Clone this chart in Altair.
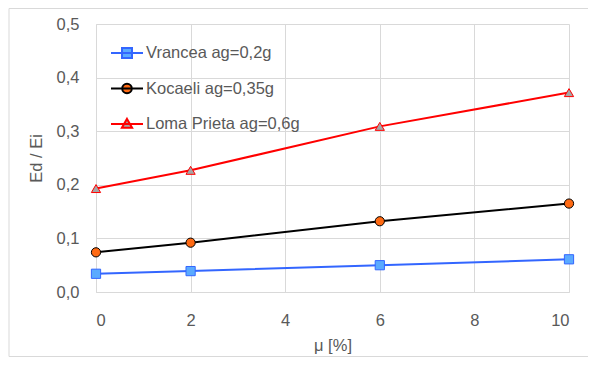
import altair as alt
import pandas as pd

mu = [0, 2, 6, 10]
series_names = ["Vrancea ag=0,2g", "Kocaeli ag=0,35g", "Loma Prieta ag=0,6g"]
vrancea = [0.034, 0.039, 0.050, 0.061]
kocaeli = [0.074, 0.092, 0.132, 0.165]
loma = [0.193, 0.227, 0.309, 0.372]
line_colors = ["#3366ff", "#000000", "#ff0000"]
fill_colors = ["#5aaaff", "#ff6a13", "#a6a6a6"]
shapes = ["square", "circle", "triangle-up"]
y_ticks = [0, 0.1, 0.2, 0.3, 0.4, 0.5]
x_ticks = [0, 2, 4, 6, 8, 10]

rows = []
for name, vals in zip(series_names, [vrancea, kocaeli, loma]):
    for m, v in zip(mu, vals):
        rows.append({"mu": m, "val": v, "series": name})
df = pd.DataFrame(rows)

FONT = "Liberation Sans"
TXT = "#595959"
GRID = "#d9d9d9"
FS = 16.5

line_path = "M-1,0L1,0"
sq = "M-0.3125,-0.3125h0.625v0.625h-0.625Z"
circ = "M0.3,0A0.3,0.3 0 1,1 -0.3,0A0.3,0.3 0 1,1 0.3,0Z"
tri = "M0,-0.32L0.32,0.24L-0.32,0.24Z"
legend_shapes = [line_path + sq, line_path + circ, line_path + tri]

x_enc = alt.X("mu:Q", title="μ [%]",
              scale=alt.Scale(domain=[0, 10], nice=False),
              axis=alt.Axis(values=x_ticks, format="d", labelPadding=20, titlePadding=9))
y_enc = alt.Y("val:Q", title="Ed / Ei",
              scale=alt.Scale(domain=[0, 0.5], nice=False),
              axis=alt.Axis(values=y_ticks,
                            labelExpr="replace(format(datum.value, '.1f'), '.', ',')",
                            labelPadding=17, titlePadding=12))

legend = alt.Legend(
    title=None, orient="none", legendX=14, legendY=12,
    symbolSize=1024, symbolStrokeWidth=2, symbolOpacity=1, rowPadding=9.5, labelOffset=2,
    padding=0, labelFontSize=FS, labelFont=FONT, labelColor=TXT,
)

lines = alt.Chart(df).mark_line(strokeWidth=2).encode(
    x=x_enc, y=y_enc,
    stroke=alt.Stroke("series:N", scale=alt.Scale(domain=series_names, range=line_colors), legend=None),
    detail="series:N",
)

points = alt.Chart(df).mark_point(filled=True, opacity=1, strokeWidth=1, size=85).encode(
    x=x_enc, y=y_enc,
    stroke=alt.Stroke("series:N", scale=alt.Scale(domain=series_names, range=line_colors), legend=None),
    fill=alt.Fill("series:N", scale=alt.Scale(domain=series_names, range=fill_colors), legend=None),
    shape=alt.Shape("series:N", scale=alt.Scale(domain=series_names, range=shapes), legend=None),
)

legend_layer = alt.Chart(df).mark_point(filled=True, opacity=0, strokeWidth=2, size=1024).encode(
    x=x_enc, y=y_enc,
    stroke=alt.Stroke("series:N", scale=alt.Scale(domain=series_names, range=line_colors), legend=legend),
    fill=alt.Fill("series:N", scale=alt.Scale(domain=series_names, range=fill_colors), legend=legend),
    shape=alt.Shape("series:N", scale=alt.Scale(domain=series_names, range=legend_shapes), legend=legend),
)

frame = alt.Chart(alt.Data(values=[{}])).mark_rect(
    fill=None, stroke=GRID, strokeWidth=1
).encode(
    x=alt.value(-87), x2=alt.value(500), y=alt.value(-15.5), y2=alt.value(332.5)
)

chart = alt.layer(frame, lines, points, legend_layer).resolve_scale(
    stroke="independent", fill="independent", shape="independent"
).properties(
    width=473, height=268,
    autosize=alt.AutoSizeParams(type="none"),
    padding={"left": 88, "top": 16, "right": 19, "bottom": 65},
).configure_view(stroke=None).configure_axis(
    grid=True, gridColor=GRID, gridWidth=1,
    domainColor=GRID, ticks=False,
    labelFont=FONT, labelFontSize=FS, labelColor=TXT,
    titleFont=FONT, titleFontSize=FS, titleColor=TXT, titleFontWeight="normal",
)

chart.save("out.html", embed_options={"renderer": "svg", "actions": False})
